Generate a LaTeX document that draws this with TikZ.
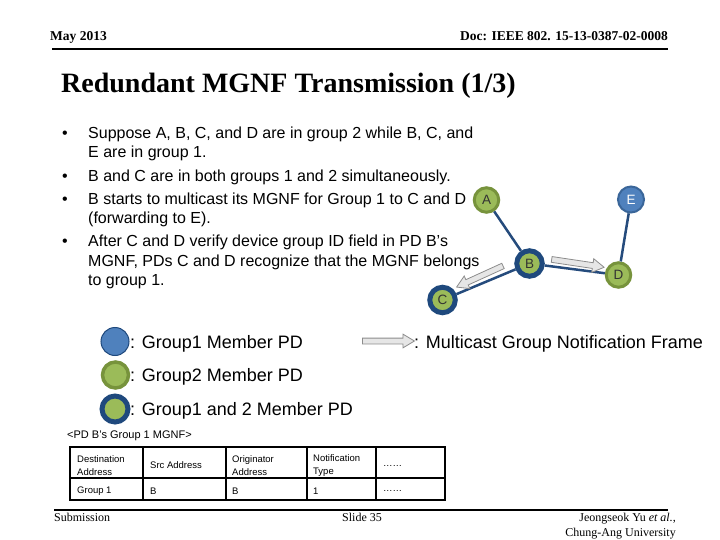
\documentclass[tikz,border=0pt]{standalone}
\usepackage{fontspec}
\setmainfont{Liberation Serif}
\setsansfont{Liberation Sans}
\usetikzlibrary{shapes.arrows}
\definecolor{gfill}{HTML}{9BBB59}
\definecolor{gline}{HTML}{77933C}
\definecolor{bfill}{HTML}{4F81BD}
\definecolor{bline}{HTML}{3A6699}
\definecolor{dline}{HTML}{1F497D}
\definecolor{edgec}{HTML}{254B7C}
\definecolor{arrf}{HTML}{E6E6E6}
\definecolor{arrd}{HTML}{8C8C8C}
\begin{document}
\begin{tikzpicture}[x=1pt,y=-1pt,
  hdr/.style={font=\fontsize{13.5}{15}\selectfont\bfseries},
  ftr/.style={font=\fontsize{12}{15}\selectfont},
  body/.style={font=\sffamily\fontsize{16}{19.5}\selectfont, inner sep=0pt, anchor=base west},
  bul/.style={font=\sffamily\fontsize{16}{19.5}\selectfont, inner sep=0pt, anchor=base},
  leg/.style={font=\sffamily\fontsize{18}{20}\selectfont, inner sep=0pt, anchor=base west},
  cell/.style={font=\sffamily\fontsize{9.5}{13}\selectfont, align=left, inner sep=0pt, anchor=west},
  gone/.style={circle, fill=bfill, draw=bline, line width=2pt, minimum size=26pt, inner sep=0pt, text=white, font=\sffamily\fontsize{13.5}{13.5}\selectfont},
  gtwo/.style={circle, fill=gfill, draw=gline, line width=3pt, minimum size=24.5pt, inner sep=0pt, text=black!80, font=\sffamily\fontsize{13.5}{13.5}\selectfont},
  gboth/.style={circle, fill=gfill, draw=dline, line width=5pt, minimum size=25.5pt, inner sep=0pt, text=black!80, font=\sffamily\fontsize{13.5}{13.5}\selectfont},
  link/.style={draw=edgec, line width=2.5pt},
  mgnf/.style={single arrow, fill=arrf, draw=arrd, line width=0.8pt, inner xsep=0pt, inner ysep=2.5pt, minimum width=13pt, single arrow head extend=4pt, single arrow tip angle=62},
  grid/.style={line width=1.8pt}
]
\useasboundingbox (0,0) rectangle (720,540);

% header
\node[hdr, anchor=base west, inner sep=0pt] (date) at (50,40.7) {May 2013};
\node[hdr, anchor=base east, inner sep=0pt] (doc) at (668,41) {Doc: IEEE 802. 15-13-0387-02-0008};
\draw[line width=2pt] (52,49) -- (668,49);

% title
\node[font=\fontsize{28}{30}\selectfont\bfseries, anchor=base west, inner sep=0pt] (title) at (61,93) {Redundant MGNF Transmission (1/3)};

% bullets
\node[bul] (b1) at (65,138.5) {\textbullet};
\node[body] (t1a) at (88,138.5) {Suppose A, B, C, and D are in group 2 while B, C, and};
\node[body] (t1b) at (88,158) {E are in group 1.};
\node[bul] (b2) at (65,181.5) {\textbullet};
\node[body] (t2) at (88,181.5) {B and C are in both groups 1 and 2 simultaneously.};
\node[bul] (b3) at (65,204.5) {\textbullet};
\node[body] (t3a) at (88,204.5) {B starts to multicast its MGNF for Group 1 to C and D};
\node[body] (t3b) at (88,224) {(forwarding to E).};
\node[bul] (b4) at (65,246.5) {\textbullet};
\node[body] (t4a) at (88,246.5) {After C and D verify device group ID field in PD B's};
\node[body] (t4b) at (88,266) {MGNF, PDs C and D recognize that the MGNF belongs};
\node[body] (t4c) at (88,285.5) {to group 1.};

% network
\node[gtwo] (A) at (486.5,200) {A};
\node[gone] (E) at (631,199.5) {E};
\node[gboth] (B) at (529.5,263.5) {B};
\node[gboth] (C) at (442.5,300) {C};
\node[gtwo] (D) at (618.5,275) {D};
\draw[link] (A) -- (B);
\draw[link] (B) -- (C);
\draw[link] (B) -- (D);
\draw[link] (D) -- (E);
\node[mgnf, minimum height=51pt, rotate=204.5] (m1) at (482,275.5) {};
\node[mgnf, minimum height=53pt, rotate=-8.5] (m2) at (575.5,263) {};

% legend
\node[circle, fill=bfill, draw=dline, line width=1pt, minimum size=28pt, inner sep=0pt] (l1) at (115,341.5) {};
\node[leg] (l1t) at (130,348) {: Group1 Member PD};
\node[circle, fill=gfill, draw=gline, line width=3.5pt, minimum size=26pt, inner sep=0pt] (l2) at (115.5,375) {};
\node[leg] (l2t) at (130,381) {: Group2 Member PD};
\node[circle, fill=gfill, draw=dline, line width=5pt, minimum size=26pt, inner sep=0pt] (l3) at (115,409) {};
\node[leg] (l3t) at (130,415) {: Group1 and 2 Member PD};
\node[mgnf, minimum height=52pt] (l4) at (386,341) {};
\node[leg] (l4t) at (414,348) {: Multicast Group Notification Frame};

% frame table
\node[font=\sffamily\fontsize{11}{13}\selectfont, anchor=base west, inner sep=0pt] (cap) at (67,438) {<PD B's Group 1 MGNF>};
\draw[grid] (70,447) rectangle (445,500);
\draw[grid] (70,478) -- (445,478);
\foreach \x in {143,226,307,376} \draw[grid] (\x,447) -- (\x,500);
\node[cell] (c11) at (77,465.5) {Destination\\Address};
\node[cell] (c12) at (150,465.5) {Src Address};
\node[cell] (c13) at (232,465.5) {Originator\\Address};
\node[cell] (c14) at (313,465.5) {Notification\\Type};
\node[cell] (c15) at (383,465.5) {……};
\node[cell] (c21) at (77,491) {Group 1};
\node[cell] (c22) at (150,491) {B};
\node[cell] (c23) at (232,491) {B};
\node[cell] (c24) at (313,491) {1};
\node[cell] (c25) at (383,491) {……};

% footer
\draw[line width=2pt] (54,510) -- (668,510);
\node[ftr, anchor=base west, inner sep=0pt] (sub) at (54,521) {Submission};
\node[ftr, anchor=base west, inner sep=0pt] (slide) at (342,521) {Slide 35};
\node[ftr, anchor=base east, inner sep=0pt] (auth) at (676,521) {Jeongseok Yu \textit{et al.},};
\node[ftr, anchor=base east, inner sep=0pt] (univ) at (676,536) {Chung-Ang University};
\end{tikzpicture}
\end{document}
